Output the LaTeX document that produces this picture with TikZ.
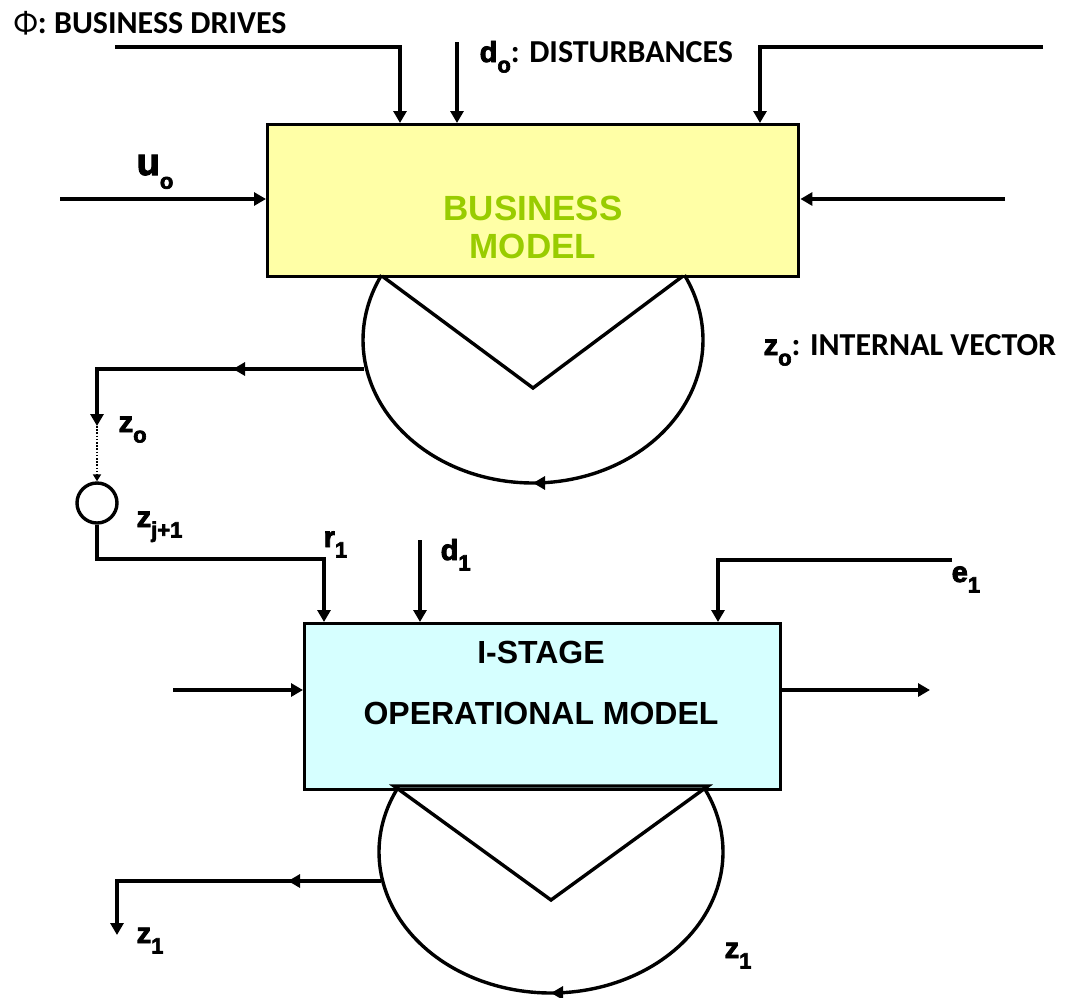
\documentclass[tikz,border=0pt]{standalone}
\usepackage{fontspec}
\setmainfont{Liberation Sans}
\newfontfamily\calfont{Carlito}
\newfontfamily\heavyfont{Liberation Sans}[BoldFeatures={FakeBold=3}]
\usetikzlibrary{arrows.meta,decorations.markings}

\definecolor{bmfill}{RGB}{255,255,166}
\definecolor{bmtext}{RGB}{153,204,0}
\definecolor{omfill}{RGB}{214,255,255}

% heavy variable name with a lowered index
\newcommand\hv[3][29]{{\heavyfont\bfseries\fontsize{#1}{#1}\selectfont #2\raisebox{-0.36em}{\fontsize{22}{22}\selectfont #3}}}
% Calibri-style bold caption text
\newcommand\cb[1]{{\calfont\bfseries\fontsize{32}{32}\selectfont #1}}

\begin{document}
\begin{tikzpicture}[x=1pt, y=-1pt, line width=3.4pt, line join=miter,
  tip/.tip={Triangle[length=12pt,width=13pt]},
  arr/.style={draw, -tip},
  midarrow/.style={postaction=decorate, decoration={markings,
      mark=at position #1 with {\arrow{Triangle[length=12pt,width=13pt]}}}},
  lab/.style={inner sep=0pt, anchor=base west},
  boxtext/.style={inner sep=0pt, anchor=base, font=\bfseries\fontsize{32}{32}\selectfont}]
\useasboundingbox (0,0) rectangle (1068,997);

% ---------------- business model ----------------
\node[draw, fill=bmfill, minimum width=531pt, minimum height=152pt, inner sep=0pt,
      anchor=north west] (bm) at (266,123) {};
\node[boxtext, text=bmtext, font=\bfseries\fontsize{35}{35}\selectfont] (bmt1) at (533,220) {BUSINESS};
\node[boxtext, text=bmtext, font=\bfseries\fontsize{35}{35}\selectfont] (bmt2) at (533,258) {MODEL};

% inputs from above
\coordinate (phiS) at (115,47);
\coordinate (phiX) at (400,47);
\draw[arr] (phiS) -- (phiX) -- (phiX |- bm.north);
\coordinate (doS) at (457,42);
\draw[arr] (doS) -- (doS |- bm.north);
\coordinate (rtS) at (1043,47);
\coordinate (rtX) at (760,47);
\draw[arr] (rtS) -- (rtX) -- (rtX |- bm.north);

% side inputs
\coordinate (uoS) at (60,199);
\draw[arr] (uoS) -- (uoS -| bm.west);
\coordinate (riS) at (1005,199);
\draw[arr] (riS) -- (riS -| bm.east);

% internal loop
\draw (382,276) -- (533,388) -- (683,276);
\draw[midarrow=0.5] plot[domain=-27:207, samples=120]
      ({533+170*cos(\x)}, {340+143*sin(\x)});

% internal vector output
\coordinate (zoutA) at (364,369);
\coordinate (zcornA) at (97,369);
\coordinate (zoA) at (97,426);
\draw[arr, midarrow=131pt] (zoutA) -- (zcornA) -- (zoA);

% junction
\node[circle, draw, minimum size=40pt, inner sep=0pt] (sum) at (97,503) {};
\draw[line width=2pt, dash pattern=on 1.6pt off 1.6pt,
      -{Triangle[length=7pt,width=8pt]}] (zoA) -- (sum.north);

% ---------------- operational model ----------------
\node[draw, fill=omfill, minimum width=476pt, minimum height=166pt, inner sep=0pt,
      anchor=north west] (om) at (303,622) {};
\node[boxtext] (omt1) at (541,663) {I-STAGE};
\node[boxtext] (omt2) at (541,724) {OPERATIONAL MODEL};

\coordinate (rcorner) at (324,559);
\draw[arr] (sum.south) |- (rcorner) -- (rcorner |- om.north);
\coordinate (d1S) at (420,540);
\draw[arr] (d1S) -- (d1S |- om.north);
\coordinate (e1S) at (952,560);
\coordinate (e1X) at (718,560);
\draw[arr] (e1S) -- (e1X) -- (e1X |- om.north);

\coordinate (inS) at (173,690);
\draw[arr] (inS) -- (inS -| om.west);
\coordinate (outE) at (930,690);
\draw[arr] (outE -| om.east) -- (outE);

% internal loop
\draw (394,786) -- (551,900) -- (708,786) -- cycle;
\draw[midarrow=0.5] plot[domain=-26:206, samples=120]
      ({551+172*cos(\x)}, {852+141*sin(\x)});

\coordinate (zoutB) at (381,881);
\coordinate (zcornB) at (117,881);
\coordinate (z1E) at (117,935);
\draw[arr, midarrow=93pt] (zoutB) -- (zcornB) -- (z1E);

% ---------------- labels ----------------
\node[lab] (phil) at (12,33) {\calfont\fontsize{32}{32}\selectfont Φ\bfseries: BUSINESS DRIVES};
\node[lab] (dol) at (478,62) {\hv{d}{o}\cb{: DISTURBANCES}};
\node[lab] (zvl) at (762,355) {\hv{z}{o}\cb{: INTERNAL VECTOR}};
\node[lab] (uol) at (135,175) {\hv[38]{u}{o}};
\node[lab] (zol) at (117,432) {\hv{z}{o}};
\node[lab] (zjl) at (135,527) {\hv{z}{j+1}};
\node[lab] (r1l) at (322,547) {\hv{r}{1}};
\node[lab] (d1l) at (439,560) {\hv{d}{1}};
\node[lab] (e1l) at (950,582) {\hv{e}{1}};
\node[lab] (z1l) at (135,943) {\hv{z}{1}};
\node[lab] (z1r) at (723,958) {\hv{z}{1}};
\end{tikzpicture}
\end{document}
